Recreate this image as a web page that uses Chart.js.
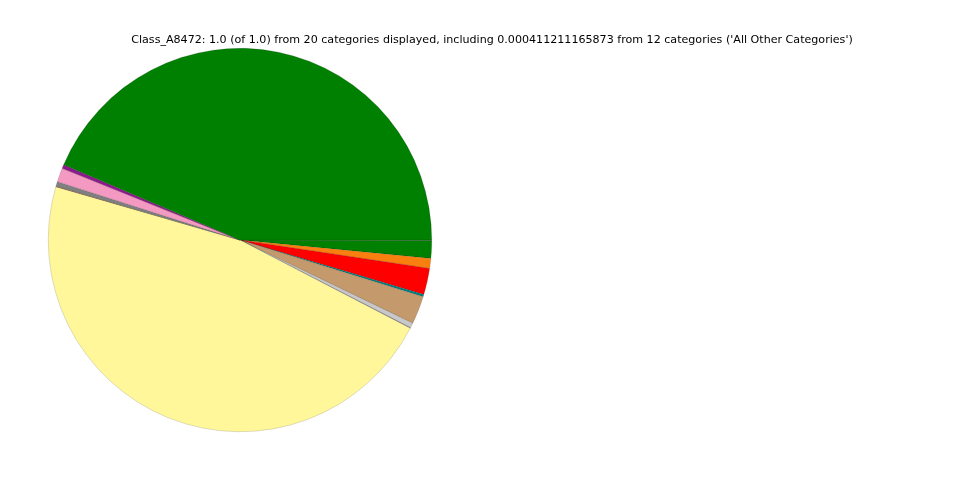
<!DOCTYPE html>
<html>
<head>
<meta charset="utf-8">
<script src="https://cdn.jsdelivr.net/npm/chart.js@4"></script>
<style>
  html, body { margin: 0; padding: 0; background: #fff; }
  #wrap { position: relative; width: 960px; height: 480px; }
</style>
</head>
<body>
<div id="wrap"><canvas id="pieChart" width="960" height="480"></canvas></div>
<script>
// slices in matplotlib order (counter-clockwise from 3 o'clock)
const categories = [
  "Cat_1", "Cat_2", "Cat_3", "Cat_4", "Cat_5", "Cat_6", "Cat_7",
  "Cat_8", "Cat_9", "Cat_10", "Cat_11", "Cat_12", "Cat_13", "All Other Categories"
];
const shares = [
  0.4356, 0.0033, 0.0117, 0.0039, 0.0005, 0.4685, 0.0005,
  0.0042, 0.0236, 0.002, 0.022, 0.0085, 0.0149, 0.000411211165873
];
const colors = [
  "#008000", "#8b1a8b", "#f49ac2", "#808080", "#a0522d", "#fff799", "#9370a0",
  "#c8c8c8", "#c49a6c", "#008080", "#ff0000", "#f97f0f", "#008000", "#808080"
];
const titleText = "Class_A8472: 1.0 (of 1.0) from 20 categories displayed, including 0.000411211165873 from 12 categories ('All Other Categories')";

// Chart.js goes clockwise, so feed the slices reversed
const revLabels = categories.slice().reverse();
const revData = shares.slice().reverse();
const revColors = colors.slice().reverse();

const titlePlugin = {
  id: "topTitle",
  afterDraw(chart) {
    const c = chart.ctx;
    c.save();
    c.fillStyle = "#000";
    c.font = "11.1px 'DejaVu Sans'";
    c.textAlign = "center";
    c.textBaseline = "middle";
    c.fillText(titleText, 492, 40);
    c.restore();
  },
};

const ctx = document.getElementById("pieChart").getContext("2d");

const pieChart = new Chart(ctx, {
  type: "pie",
  data: {
    labels: revLabels,
    datasets: [
      {
        data: revData,
        backgroundColor: revColors,
        borderColor: "rgba(0, 0, 0, 0.25)",
        borderWidth: 0.5,
      },
    ],
  },
  options: {
    responsive: false,
    animation: false,
    rotation: 90,
    layout: {
      padding: { left: 48, right: 528, top: 48, bottom: 48 },
    },
    plugins: {
      legend: { display: false },
      tooltip: { enabled: false },
      title: { display: false },
    },
  },
  plugins: [titlePlugin],
});
</script>
</body>
</html>
